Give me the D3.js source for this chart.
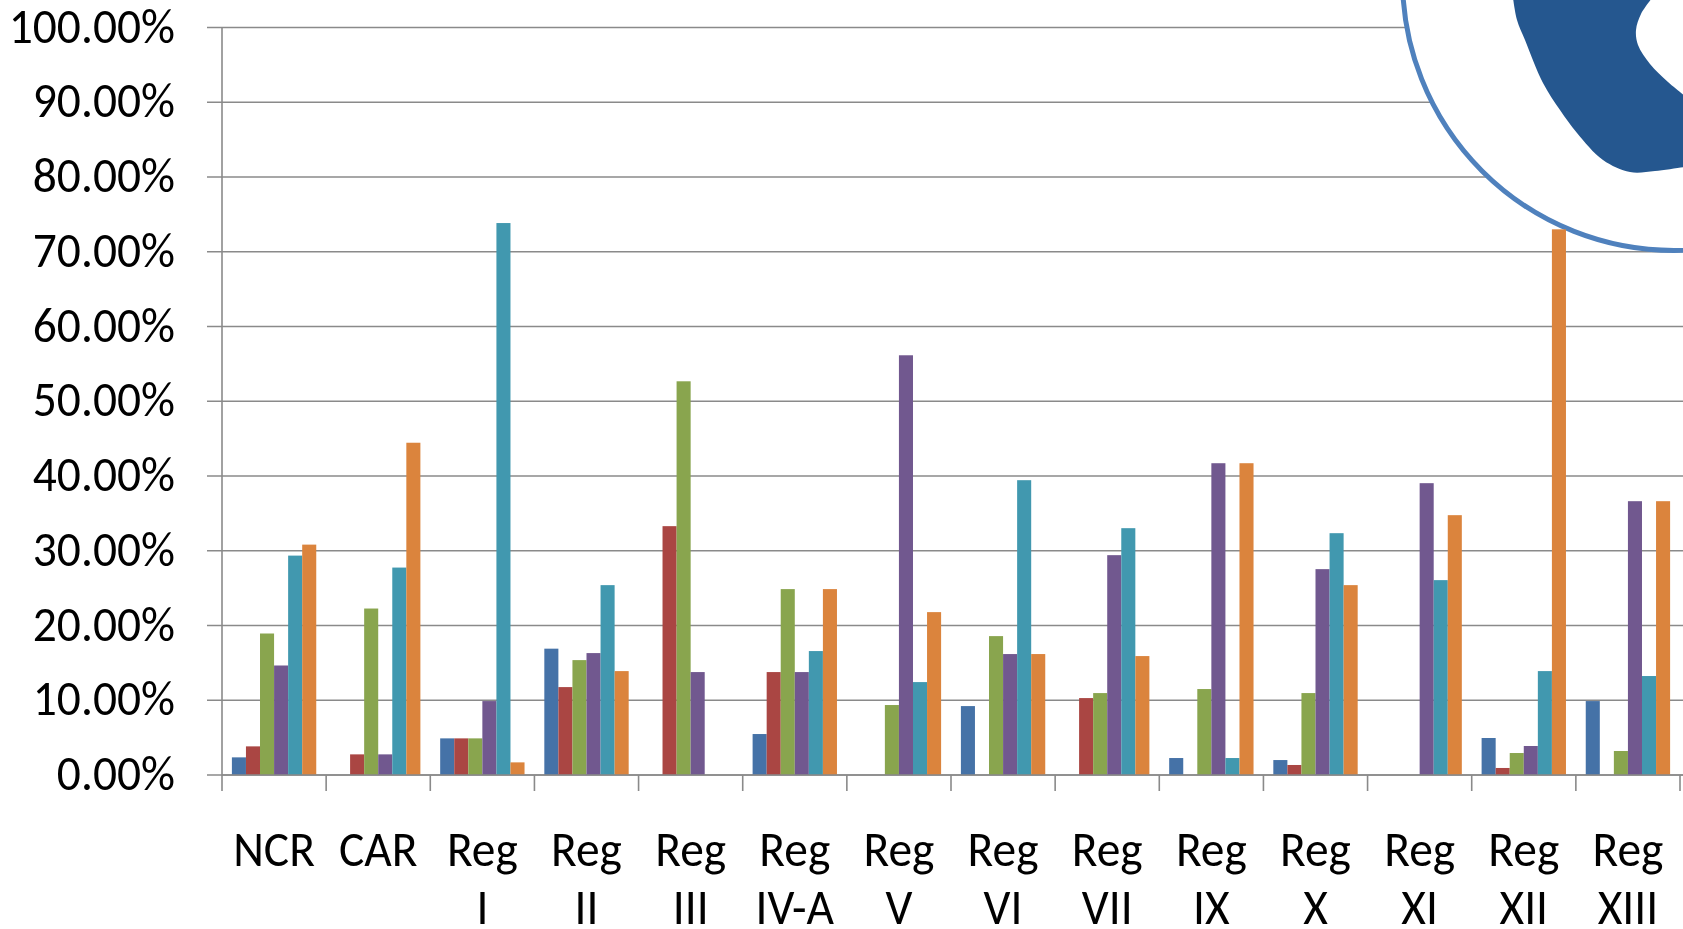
<!DOCTYPE html>
<html><head><meta charset="utf-8">
<script src="https://cdn.jsdelivr.net/npm/d3@7"></script>
<style>
html,body{margin:0;padding:0;background:#fff;overflow:hidden;}
svg{display:block;}
</style></head>
<body>
<svg id="chart" width="1683" height="929"></svg>
<script>
const categories = ["NCR","CAR","Reg I","Reg II","Reg III","Reg IV-A","Reg V","Reg VI","Reg VII","Reg IX","Reg X","Reg XI","Reg XII","Reg XIII"];
const seriesNames = ["S1","S2","S3","S4","S5","S6"];
const seriesColors = ["#4572A7","#AA4643","#89A54E","#71588F","#4198AF","#DB843D"];
const s1 = [2.36, 0, 4.9, 16.9, 0, 5.48, 0, 9.22, 0, 2.27, 2.0, 0, 4.95, 9.89];
const s2 = [3.83, 2.76, 4.9, 11.76, 33.29, 13.77, 0, 0, 10.29, 0, 1.34, 0, 0.94, 0];
const s3 = [18.93, 22.27, 4.9, 15.37, 52.67, 24.87, 9.36, 18.58, 10.96, 11.5, 10.96, 0, 2.94, 3.21];
const s4 = [14.65, 2.76, 9.89, 16.31, 13.77, 13.77, 56.15, 16.18, 29.41, 41.71, 27.54, 39.04, 3.88, 36.63];
const s5 = [29.35, 27.75, 73.84, 25.4, 0, 16.58, 12.43, 39.44, 33.02, 2.27, 32.35, 26.07, 13.9, 13.24];
const s6 = [30.82, 44.45, 1.69, 13.9, 0, 24.87, 21.79, 16.18, 15.91, 41.71, 25.4, 34.76, 73.0, 36.63];
const yTicks = [0,10,20,30,40,50,60,70,80,90,100];

(function(){
const seriesValues = [s1,s2,s3,s4,s5,s6];
const svg = d3.select("#chart");
const W = 1683;
const pLeft = 222, pRight = 1680, pTop = 27.5, pBottom = 775;
const gridColor = "#8a8a8a";
const FONT = "Carlito, Calibri, Lato, sans-serif";
const FS = 50, SX = 0.95;

const y = d3.scaleLinear().domain([0,100]).range([pBottom, pTop]);
const xTick = d3.scaleBand().domain(categories).range([pLeft, pRight]).padding(0);
const x0 = d3.scaleBand().domain(categories).range([pLeft, pRight]).paddingInner(0.19).paddingOuter(0.095);
const x1 = d3.scaleBand().domain(seriesNames).range([0, x0.bandwidth()]);

// gridlines
svg.append("g").selectAll("line").data(yTicks).join("line")
  .attr("x1", pLeft-15).attr("x2", W).attr("y1", d=>y(d)).attr("y2", d=>y(d))
  .attr("stroke", gridColor).attr("stroke-width", 1.6);

// logo decoration (top-right)
const logo = svg.append("g");
logo.append("circle").attr("cx",1674).attr("cy",-21).attr("r",271.5)
  .attr("fill","#fff").attr("stroke","#4F81BD").attr("stroke-width",5);
const shapePts = [[1513,-2],[1517,20],[1525,40],[1543,83],[1560,110],[1577,133],[1603,160],[1630,172],[1655,171],[1685,167]];
const innerPts = [[1685,96],[1668,82],[1650,64],[1638,45],[1636,30],[1641,14],[1652,-2]];
const line = d3.line().curve(d3.curveCatmullRom.alpha(0.5));
const pathD = line(shapePts) + line(innerPts).replace(/^M/, "L") + "Z";
logo.append("path").attr("d", pathD).attr("fill","#25578F");

// y axis line
svg.append("line").attr("x1",pLeft).attr("x2",pLeft).attr("y1",pTop).attr("y2",pBottom)
  .attr("stroke",gridColor).attr("stroke-width",1.6);

// bars
const groups = svg.append("g").selectAll("g").data(categories).join("g")
  .attr("transform", d=>`translate(${x0(d)},0)`);
groups.selectAll("rect").data((c,i)=>seriesNames.map((s,j)=>({s, j, v: seriesValues[j][i]})))
  .join("rect")
  .attr("x", d=>x1(d.s)).attr("width", x1.bandwidth())
  .attr("y", d=>y(d.v)).attr("height", d=>pBottom - y(d.v))
  .attr("fill", d=>seriesColors[d.j]);

// x axis line and ticks
svg.append("line").attr("x1",pLeft).attr("x2",W).attr("y1",pBottom).attr("y2",pBottom)
  .attr("stroke",gridColor).attr("stroke-width",1.6);
const tickXs = categories.map(c=>xTick(c)).concat([pRight]);
svg.append("g").selectAll("line").data(tickXs).join("line")
  .attr("x1",d=>d).attr("x2",d=>d).attr("y1",pBottom).attr("y2",pBottom+16)
  .attr("stroke",gridColor).attr("stroke-width",1.6);

// y labels
svg.append("g").selectAll("text").data(yTicks).join("text")
  .attr("transform", d=>`translate(175,${y(d)+15}) scale(${SX},1)`)
  .attr("text-anchor","end").attr("font-family",FONT).attr("font-size",FS).attr("fill","#000")
  .text(d=>d.toFixed(2)+"%");

// x labels
const xl = svg.append("g").selectAll("g").data(categories).join("g")
  .attr("transform", d=>`translate(${xTick(d)+xTick.bandwidth()/2},0)`);
xl.each(function(d){
  const parts = d.split(" ");
  const g = d3.select(this);
  parts.forEach((t,k)=>{
    g.append("text").attr("transform",`translate(0,${866+k*58}) scale(${SX},1)`)
      .attr("text-anchor","middle").attr("font-family",FONT).attr("font-size",FS).attr("fill","#000")
      .text(t);
  });
});
})();
</script>
</body></html>
